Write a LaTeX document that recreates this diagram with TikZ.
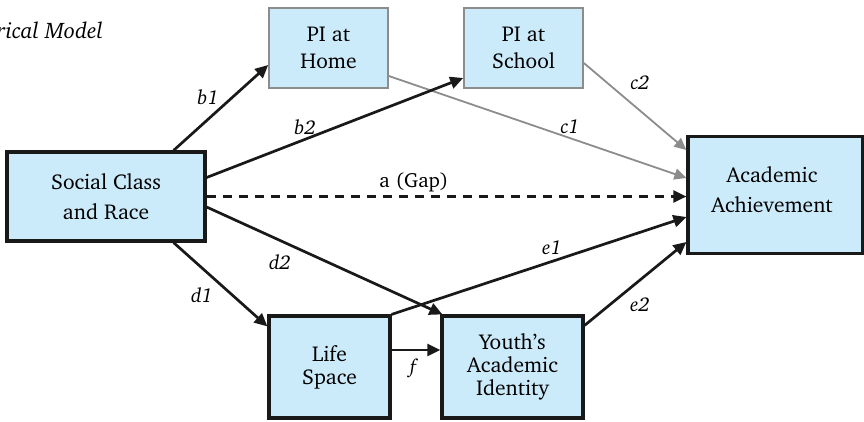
\documentclass[tikz,border=0pt]{standalone}
\usepackage[T1]{fontenc}
\usepackage{charter}
\usetikzlibrary{arrows.meta,calc}
\definecolor{boxblue}{RGB}{204,235,250}
\definecolor{linegray}{RGB}{140,140,140}
\tikzset{
  mainbox/.style={draw=black!90, line width=3.2pt, fill=boxblue, align=center, inner sep=0pt},
  pibox/.style={draw=linegray, line width=1.6pt, fill=boxblue, align=center, inner sep=0pt},
  blackarrow/.style={draw=black!90, line width=2.7pt, -{Triangle[length=13pt,width=12pt]}},
  grayarrow/.style={draw=linegray, line width=1.8pt, -{Triangle[length=12pt,width=11pt]}},
  gaparrow/.style={draw=black!90, line width=2.2pt, dash pattern=on 9pt off 7pt, -{Triangle[length=13pt,width=12pt]}},
  pathlabel/.style={font=\fontsize{20}{22}\selectfont\itshape, inner sep=0pt},
}
\begin{document}
\begin{tikzpicture}[x=1pt,y=-1pt]
\useasboundingbox (0,0) rectangle (864,421);
\node[anchor=base east, font=\fontsize{22.5}{26}\selectfont\itshape, inner sep=0pt] (title) at (103,38) {Empirical Model};

\node[mainbox, minimum width=198pt, minimum height=89pt, font=\fontsize{21.5}{30}\selectfont] (soc) at (106,196.5) {Social Class\\and Race};
\node[pibox, minimum width=119pt, minimum height=80pt, font=\fontsize{21.5}{27}\selectfont] (home) at (328.5,48) {PI at\\Home};
\node[pibox, minimum width=119pt, minimum height=80pt, font=\fontsize{21.5}{27}\selectfont] (school) at (523.5,48) {PI at\\School};
\node[mainbox, minimum width=175pt, minimum height=117pt] (ach) at (775.5,195) {};
\node[font=\fontsize{21.5}{30}\selectfont, align=center, inner sep=0pt] (achtext) at (772,190) {Academic\\Achievement};
\node[mainbox, minimum width=121pt, minimum height=102pt, font=\fontsize{21.5}{23}\selectfont] (life) at (329.5,367) {Life\\Space};
\node[mainbox, minimum width=141pt, minimum height=102pt, font=\fontsize{21.5}{23}\selectfont] (youth) at (512.5,367) {Youth's\\Academic\\Identity};

\draw[grayarrow] ([yshift=-28pt]home.east) -- ([yshift=17pt]ach.west);
\draw[grayarrow] ([yshift=-15pt]school.east) -- ([yshift=45pt]ach.west);
\draw[blackarrow] ([xshift=-33pt]soc.north east) -- ([yshift=-17pt]home.west);
\draw[blackarrow] ([yshift=19pt]soc.east) -- ([yshift=-30pt]school.west);
\draw[gaparrow] (soc.east) -- (soc.east -| ach.west);
\draw[blackarrow] ([yshift=-10.5pt]soc.east) -- ([xshift=2pt]youth.north west);
\draw[blackarrow] ([xshift=-33pt]soc.south east) -- ([yshift=-12pt]life.north west);
\draw[blackarrow] (life.north east) -- ([yshift=-22pt]ach.west);
\draw[blackarrow] ([yshift=-11pt]youth.north east) -- ([yshift=-47pt]ach.west);
\draw[blackarrow] ([yshift=17pt]life.east) -- ([yshift=17pt]youth.west);

\node[pathlabel] (lb1) at (208,97) {b1};
\node[pathlabel] (lb2) at (305,127) {b2};
\node[pathlabel] (lc1) at (570,127) {c1};
\node[pathlabel] (lc2) at (640,83) {c2};
\node[font=\fontsize{20.5}{22}\selectfont, inner sep=0pt] (la) at (414,182) {a (Gap)};
\node[pathlabel] (ld1) at (202,295) {d1};
\node[pathlabel] (ld2) at (280,262) {d2};
\node[pathlabel] (le1) at (552,248) {e1};
\node[pathlabel] (le2) at (640,305) {e2};
\node[pathlabel] (lf) at (413,368) {f};
\end{tikzpicture}
\end{document}
